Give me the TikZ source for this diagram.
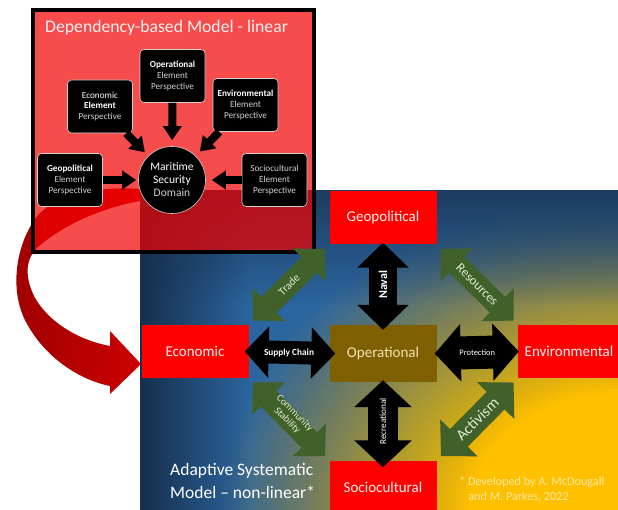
\documentclass[tikz,border=0pt]{standalone}
\usepackage{fontspec}
\setmainfont{Carlito}
\usetikzlibrary{fadings,arrows.meta}
\definecolor{navy}{HTML}{172F4D}
\definecolor{midblue}{HTML}{2B66A0}
\definecolor{topblue}{HTML}{1D3C5F}
\definecolor{gold}{HTML}{FFC000}
\definecolor{leafgreen}{HTML}{41612A}
\definecolor{opbrown}{HTML}{7F6000}
\definecolor{optext}{HTML}{F2E3B6}
\definecolor{paleyellow}{HTML}{F8E8A6}
\definecolor{softgray}{HTML}{D2D2D2}
\definecolor{leaftext}{HTML}{E2EBD4}
\definecolor{darkarrow}{HTML}{9E0000}
\definecolor{brightarrow}{HTML}{CC0000}
\definecolor{pinkwhite}{HTML}{FFF0F0}
\definecolor{boxred}{HTML}{F40000}
\tikzfading[name=topfade, top color=transparent!0, bottom color=transparent!100]
\tikzfading[name=leftfade, left color=transparent!0, right color=transparent!100]
\begin{document}
\begin{tikzpicture}[x=1pt, y=-1pt,
  elem/.style={draw=softgray, line width=0.6, fill=black, rounded corners=4, minimum width=65, minimum height=53, align=center, font=\fontsize{9.2}{10.8}\selectfont, text=softgray, inner sep=1},
  thinarrow/.style={line width=8, -{Triangle[width=18pt,length=14pt]}},
  redbox/.style={fill=red, minimum width=107, minimum height=53, inner sep=0, text=pinkwhite, font=\fontsize{15}{16}\selectfont},
  blkarrow/.style args={#1/#2/#3}{draw=black, line width=#1, {Triangle[width=#2,length=#3]}-{Triangle[width=#2,length=#3]}},
  grnarrow/.style args={#1/#2/#3}{draw=leafgreen, line width=#1, {Triangle[width=#2,length=#3]}-{Triangle[width=#2,length=#3]}},
  blklbl/.style={text=white, inner sep=0},
  grnlbl/.style={text=leaftext, inner sep=0, align=center}
]
\fill[white] (0,0) rectangle (618,510);
\useasboundingbox (0,0) rectangle (618,510);

% background panel of the adaptive model
\begin{scope}
  \clip (140,190) rectangle (618,510);
  \fill[midblue] (140,190) rectangle (618,510);
  \foreach \n in {1,...,50} {
    \pgfmathsetmacro\s{0.90-(\n-1)*(0.90-0.34)/49}
    \pgfmathsetmacro\a{1/(51-\n)}
    \fill[gold, opacity=\a] (618,510) ellipse ({440*\s} and {345*\s});
  }
  \fill[topblue, path fading=topfade] (140,190) rectangle (618,305);
  \fill[navy, path fading=leftfade] (140,190) rectangle (250,510);
\end{scope}

% big curved red arrow
\shade[left color=darkarrow, right color=brightarrow]
  (140,189) .. controls (95,186) and (50,195) .. (33,222)
  .. controls (15,250) and (10,292) .. (26,322)
  .. controls (45,358) and (80,380) .. (110,386)
  -- (110,394) -- (141,364) -- (110,331) -- (110,346)
  .. controls (78,340) and (48,322) .. (34,296)
  .. controls (24,275) and (26,258) .. (38,247)
  .. controls (62,226) and (100,208) .. (140,201) -- cycle;

% linear model box
\node[draw=black, line width=3.5, fill=boxred, fill opacity=0.7, minimum width=281, minimum height=242, inner sep=0] (linbox) at (173.5,131) {};
\node[anchor=west, text=pinkwhite, inner sep=0, font=\fontsize{17.7}{19}\selectfont] (title) at (45,28) {Dependency-based Model - linear};

\node[elem] (opE) at (172.5,76) {\textcolor{white}{\bfseries Operational}\\Element\\Perspective};
\node[elem] (ecoE) at (100,106.5) {\textcolor{white}{Economic}\\\textcolor{white}{\bfseries Element}\\Perspective};
\node[elem] (envE) at (245.5,105) {\textcolor{white}{\bfseries Environmental}\\Element\\Perspective};
\node[elem] (geoE) at (70,180) {\textcolor{white}{\bfseries Geopolitical}\\Element\\Perspective};
\node[elem] (socE) at (274.5,180) {Sociocultural\\Element\\Perspective};
\node[circle, fill=black, draw=softgray, line width=0.6, minimum size=67, inner sep=0, align=center, text=white, font=\fontsize{11.5}{13}\selectfont] (msd) at (172,180) {Maritime\\Security\\\textcolor{softgray}{Domain}};

\draw[thinarrow, shorten >=6] (opE) -- (msd);
\draw[thinarrow, shorten >=5] (ecoE) -- (msd);
\draw[thinarrow, shorten >=6] (envE) -- (msd);
\draw[thinarrow, shorten >=2] (geoE) -- (msd);
\draw[thinarrow, shorten >=6] (socE) -- (msd);

% adaptive model nodes
\node[redbox] (geo) at (383,218) {Geopolitical};
\node[redbox] (eco) at (195,351.5) {Economic};
\node[redbox, minimum width=102] (env) at (569,351.5) {Environmental};
\node[redbox] (soc) at (383,487) {Sociocultural};
\node[redbox, fill=opbrown, text=optext, minimum height=57] (op) at (383,353.5) {Operational};

% black double arrows
\draw[blkarrow={28pt/50pt/25pt}, shorten <=-5, shorten >=-2] (op.north) -- (geo.south)
  node[midway, blklbl, rotate=90, font=\bfseries\fontsize{12}{13}\selectfont] {Naval};
\draw[blkarrow={30pt/56pt/27pt}, shorten <=-2, shorten >=-7] (op.south) -- (soc.north)
  node[midway, blklbl, rotate=90, font=\fontsize{9.2}{10}\selectfont] {Recreational};
\draw[blkarrow={23pt/50pt/24pt}, shorten <=-4, shorten >=-6] (eco.east) -- (op.west)
  node[midway, blklbl, font=\bfseries\fontsize{9.3}{10}\selectfont] {Supply Chain};
\draw[blkarrow={33pt/56pt/26pt}, shorten <=-2, shorten >=-1] (op.east) -- (env.west)
  node[midway, blklbl, font=\fontsize{8.4}{9}\selectfont] {Protection};

% green diagonal double arrows
\draw[grnarrow={22pt/45pt/22.5pt}, shorten <=6, shorten >=6] (eco.north east) -- (geo.south west)
  node[midway, grnlbl, rotate=45, font=\fontsize{11}{12}\selectfont] {Trade};
\draw[grnarrow={22pt/45pt/22.5pt}, shorten <=6, shorten >=6] (geo.south east) -- (env.north west)
  node[midway, grnlbl, rotate=-45, font=\fontsize{13}{14}\selectfont] {Resources};
\draw[grnarrow={22pt/45pt/22.5pt}, shorten <=6, shorten >=6] (eco.south east) -- (soc.north west);
\node[grnlbl, rotate=-45, font=\fontsize{10}{10.5}\selectfont] (commlbl) at (291,417) {Community\\Stability};
\draw[grnarrow={25pt/51pt/25.5pt}, shorten <=6, shorten >=6] (soc.north east) -- (env.south west)
  node[midway, grnlbl, rotate=45, font=\fontsize{15.5}{16}\selectfont] {Activism};

% captions
\node[anchor=west, align=left, text=white, inner sep=0, font=\fontsize{17.5}{23}\selectfont] (adaptive) at (170,480.5) {Adaptive Systematic\\Model -- non-linear*};
\node[anchor=west, align=left, text=paleyellow, inner sep=0, font=\fontsize{12.2}{15}\selectfont] (credit) at (459,489.5) {* Developed by A. McDougall\\\hspace*{0.75em}and M. Parkes, 2022};
\end{tikzpicture}
\end{document}
